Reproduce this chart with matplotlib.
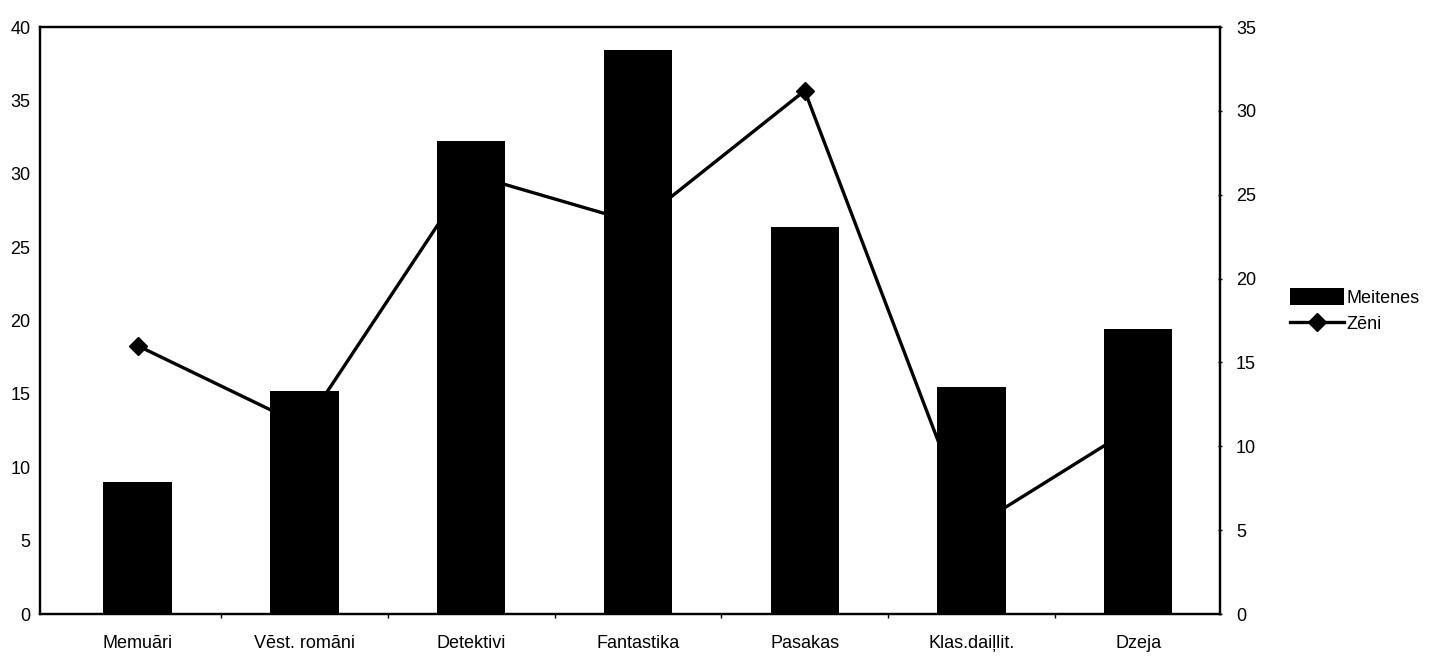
import matplotlib
matplotlib.use("Agg")
import matplotlib.pyplot as plt
import numpy as np

categories = ["Memuāri", "Vēst. romāni", "Detektivi", "Fantastika", "Pasakas", "Klas.daiļlit.", "Dzeja"]
meitenes = [9.0, 15.2, 32.2, 38.4, 26.4, 15.5, 19.4]
zeni = [16.0, 11.2, 26.2, 23.3, 31.2, 5.1, 11.3]
left_ticks = [0, 5, 10, 15, 20, 25, 30, 35, 40]
right_ticks = [0, 5, 10, 15, 20, 25, 30, 35]

plt.rcParams['font.family'] = ['Liberation Sans', 'DejaVu Sans']

fig = plt.figure(figsize=(14.38, 6.57), dpi=100)
ax_line = fig.add_axes([0.0278, 0.0654, 0.8206, 0.8935])
ax_bar = ax_line.twinx()

x = np.arange(len(categories))

# line (right axis) drawn beneath bars
ax_line.plot(x, zeni, color='black', lw=2.4, marker='D', markersize=9, label='Zēni', zorder=2)
ax_line.set_ylim(0, 35)
ax_line.yaxis.tick_right()
ax_line.yaxis.set_label_position('right')
ax_line.set_yticks(right_ticks)

# bars (left axis) on top
bars = ax_bar.bar(x, meitenes, width=0.41, color='black', label='Meitenes', zorder=3)
ax_bar.set_ylim(0, 40)
ax_bar.yaxis.tick_left()
ax_bar.yaxis.set_label_position('left')
ax_bar.set_yticks(left_ticks)

ax_line.set_xlim(-0.585, 6.49)
ax_line.set_xticks(x)
ax_line.set_xticklabels(categories)
ax_line.set_xticks(np.arange(len(categories) - 1) + 0.5, minor=True)
ax_line.tick_params(axis='x', which='major', length=0, pad=15, labelsize=13)
ax_line.tick_params(axis='x', which='minor', length=3, width=1, direction='out')
ax_line.tick_params(axis='y', length=3, width=1, direction='inout', labelsize=13, pad=10)
ax_bar.tick_params(axis='y', length=0, labelsize=13, pad=7)

for a in (ax_line, ax_bar):
    for s in a.spines.values():
        s.set_linewidth(1.6)
        s.set_color('black')

handles = [bars, ax_line.lines[0]]
labels = ['Meitenes', 'Zēni']
fig.legend(handles, labels, loc='upper left', bbox_to_anchor=(0.892, 0.572),
           frameon=False, fontsize=13, handlelength=3.0, handleheight=1.0,
           handletextpad=0.15, labelspacing=0.45, borderaxespad=0)

fig.savefig('out.png', dpi=100)
